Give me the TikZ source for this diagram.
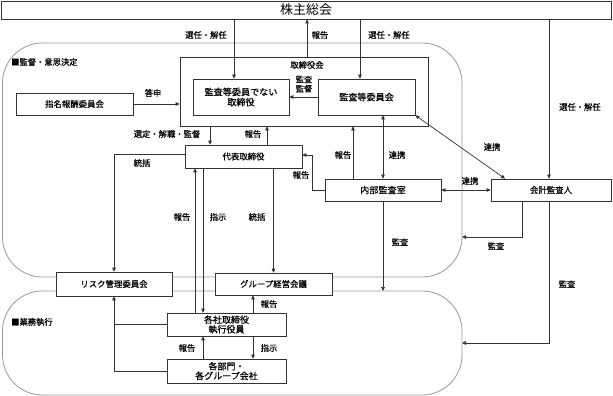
\documentclass[tikz,border=0pt]{standalone}
\usepackage{fontspec}
\setmainfont{Noto Sans CJK JP}[BoldFont=Noto Sans CJK JP,BoldFeatures={FakeBold=0.6}]
\usetikzlibrary{arrows.meta,calc}
\begin{document}
\begin{tikzpicture}[x=1pt,y=-1pt,
  box/.style={draw=black!80,line width=0.7pt,fill=white,inner sep=0pt,align=center,font=\fontsize{8.4}{9.5}\selectfont\bfseries},
  bigbox/.style={box,font=\fontsize{9.1}{10.2}\selectfont\bfseries},
  lbl/.style={inner sep=0pt,font=\fontsize{8.3}{9.3}\selectfont\bfseries,align=center},
  region/.style={draw=black!40,line width=0.8pt,rounded corners=40pt},
  conn/.style={draw=black!80,line width=0.7pt},
  arr/.style={conn,-{Triangle[length=4pt,width=3.6pt]}},
  dbl/.style={conn,{Triangle[length=4pt,width=3.6pt]}-{Triangle[length=4pt,width=3.6pt]}}]
\useasboundingbox (0,0) rectangle (613,396);
% regions
\draw[region] (2.5,43) rectangle (462,277);
\draw[region] (2.5,291) rectangle (462,395);
\coordinate (lowtop) at (0,291);
\coordinate (upR) at (462,237);
\coordinate (loR) at (462,343);
\node[lbl,anchor=west] (lab1) at (11,62) {■監督・意思決定};
\node[lbl,anchor=west] (lab2) at (11,322) {■業務執行};
% boxes
\node[box,minimum width=610pt,minimum height=18pt,font=\fontsize{13}{14}\selectfont] (sh) at (306,10) {株主総会};
\node[box,minimum width=248pt,minimum height=69pt] (board) at (304,91.5) {};
\node[lbl] (boardlbl) at (307,65) {取締役会};
\node[bigbox,minimum width=96pt,minimum height=36pt] (nondir) at (241,97) {監査等委員でない\\取締役};
\node[bigbox,minimum width=97pt,minimum height=36pt] (acom) at (366.5,97) {監査等委員会};
\node[box,minimum width=117pt,minimum height=22pt] (nomin) at (74.5,104) {指名報酬委員会};
\node[box,minimum width=117pt,minimum height=23pt] (rep) at (243.5,156.5) {代表取締役};
\node[bigbox,minimum width=116pt,minimum height=22pt] (ia) at (383,190) {内部監査室};
\node[box,minimum width=120pt,minimum height=22pt] (aud) at (551,190) {会計監査人};
\node[box,minimum width=116pt,minimum height=24pt] (risk) at (114,284) {リスク管理委員会};
\node[box,minimum width=117pt,minimum height=22pt] (grp) at (273.5,284) {グループ経営会議};
\node[bigbox,minimum width=119pt,minimum height=23pt,font=\fontsize{9}{9.6}\selectfont\bfseries] (sub) at (226.5,324.5) {各社取締役\\執行役員};
\node[bigbox,minimum width=119pt,minimum height=24pt,font=\fontsize{9}{9.6}\selectfont\bfseries] (dept) at (226.5,371) {各部門・\\各グループ会社};
% connectors
\draw[arr] ([xshift=-7pt]nondir.north |- sh.south) -- ([xshift=-7pt]nondir.north);
\draw[arr] ([xshift=3pt]board.north) -- ([xshift=3pt]board.north |- sh.south);
\draw[arr] ([xshift=-6.5pt]acom.north |- sh.south) -- ([xshift=-6.5pt]acom.north);
\draw[arr] ([xshift=-2pt]aud.north |- sh.south) -- ([xshift=-2pt]aud.north);
\draw[arr] (nomin.east) -- (nomin.east -| board.west);
\draw[arr] (acom.west) -- (nondir.east);
\draw[arr] ([xshift=-33.5pt]rep.north |- board.south) -- ([xshift=-33.5pt]rep.north);
\draw[arr] ([xshift=23.5pt]rep.north) -- ([xshift=23.5pt]rep.north |- board.south);
\draw[arr] ([yshift=2pt]rep.west) -| (risk.north);
\draw[arr] (rep.south -| grp.north) -- (grp.north);
\draw[arr] ([xshift=-31.5pt]sub.north) -- ([xshift=-31.5pt]sub.north |- rep.south);
\draw[arr] ([xshift=-23.5pt]sub.north |- rep.south) -- ([xshift=-23.5pt]sub.north);
\draw[arr] (ia.west) -- ++(-12,0) |- ([yshift=1.5pt]rep.east);
\draw[arr] ([xshift=-30pt]ia.north) -- ([xshift=-30pt]ia.north |- board.south);
\draw[dbl] (ia.north |- acom.south) -- (ia.north);
\draw[dbl] (acom.south east) -- ([xshift=-46pt]aud.north);
\draw[dbl] (ia.east) -- (aud.west);
\draw[arr] (ia.south) -- (ia.south |- lowtop);
\draw[arr] ([xshift=-29pt]aud.south) |- (upR);
\draw[arr] ([xshift=-2pt]aud.south) |- (loR);
\draw[arr] (dept.west) -| (risk.south);
\draw[conn] (sub.west) -- (sub.west -| risk.south);
\draw[arr] ([xshift=26.5pt]sub.north) -- ([xshift=26.5pt]sub.north |- grp.south);
\draw[arr] ([xshift=26.5pt]sub.south) -- ([xshift=26.5pt]dept.north);
\draw[arr] ([xshift=-23.5pt]dept.north) -- ([xshift=-23.5pt]sub.south);
% labels
\node[lbl] (l1) at (206,35) {選任・解任};
\node[lbl] (l2) at (320,35) {報告};
\node[lbl] (l3) at (389,35) {選任・解任};
\node[lbl] (l4) at (580,107) {選任・解任};
\node[lbl] (l5) at (304,84) {監査\\監督};
\node[lbl] (l6) at (153,93) {答申};
\node[lbl] (l7) at (167,134) {選定・解職・監督};
\node[lbl] (l8) at (253,134) {報告};
\node[lbl] (l9) at (142,163) {統括};
\node[lbl] (l10) at (301,175) {報告};
\node[lbl] (l11) at (343,155) {報告};
\node[lbl] (l12) at (397,155) {連携};
\node[lbl] (l13) at (492,147) {連携};
\node[lbl] (l14) at (470,181) {連携};
\node[lbl] (l15) at (182,217) {報告};
\node[lbl] (l16) at (218,217) {指示};
\node[lbl] (l17) at (257,217) {統括};
\node[lbl] (l18) at (400,242) {監査};
\node[lbl] (l19) at (496,246) {監査};
\node[lbl] (l20) at (567,284) {監査};
\node[lbl] (l21) at (269,304) {報告};
\node[lbl] (l22) at (269,348) {指示};
\node[lbl] (l23) at (187,348) {報告};
\end{tikzpicture}
\end{document}
